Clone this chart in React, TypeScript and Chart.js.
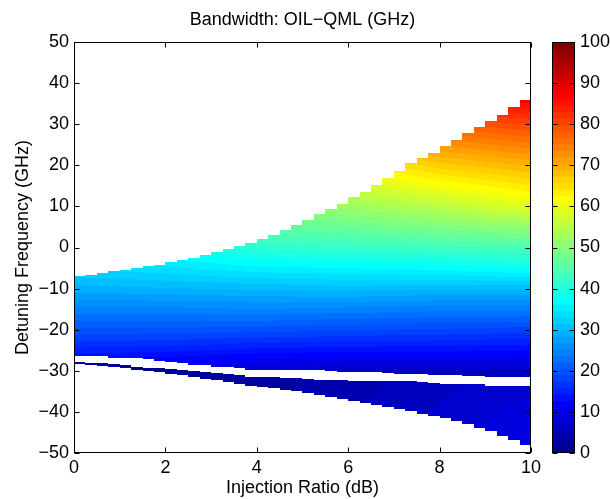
import React, { useEffect, useRef } from 'react';
import { Chart, registerables } from 'chart.js';

Chart.register(...registerables);

// ---------------- text ----------------
const TITLE = 'Bandwidth: OIL\u2212QML (GHz)';
const X_LABEL = 'Injection Ratio (dB)';
const Y_LABEL = 'Detuning Frequency (GHz)';

// ---------------- ticks ----------------
const xTickValues = [0, 2, 4, 6, 8, 10];
const yTickValues = [-50, -40, -30, -20, -10, 0, 10, 20, 30, 40, 50];
const cbTickValues = [0, 10, 20, 30, 40, 50, 60, 70, 80, 90, 100];

// ---------------- region of the map (per 0.25 dB column) ----------------
const columnWidth = 0.25;
const columnStart = [
  0, 0.25, 0.5, 0.75, 1, 1.25, 1.5, 1.75, 2, 2.25, 2.5, 2.75, 3, 3.25, 3.5, 3.75,
  4, 4.25, 4.5, 4.75, 5, 5.25, 5.5, 5.75, 6, 6.25, 6.5, 6.75, 7, 7.25, 7.5, 7.75,
  8, 8.25, 8.5, 8.75, 9, 9.25, 9.5, 9.75,
];
// upper boundary of the locked region (GHz)
const upperEdge = [
  -6.9, -6.8, -6.3, -5.8, -5.4, -5.0, -4.6, -4.2, -3.6, -3.1, -2.6, -1.9, -1.1, -0.4, 0.4, 1.2,
  2.0, 3.0, 4.2, 5.4, 6.7, 8.2, 9.3, 10.6, 12.2, 13.6, 15.2, 16.8, 18.7, 20.6, 21.7, 23.1,
  24.7, 26.2, 27.9, 29.2, 30.7, 32.2, 34.1, 35.9,
];
// lower boundary of the upper part (top of white gap)
const gapTop = [
  -26.4, -26.4, -26.5, -26.9, -27.0, -27.0, -27.2, -27.6, -27.9, -28.2, -28.5, -28.7, -29.0, -29.0, -29.2, -29.7,
  -29.8, -29.8, -29.8, -29.8, -29.8, -29.8, -30.1, -30.4, -30.4, -30.4, -30.4, -30.6, -30.8, -30.8, -30.8, -31.0,
  -31.0, -31.0, -31.3, -31.3, -31.4, -31.4, -31.4, -31.4,
];
// upper boundary of the lower strip (bottom of white gap)
const gapBottom = [
  -27.9, -28.0, -28.2, -28.4, -28.7, -29.0, -29.2, -29.4, -29.5, -29.8, -30.1, -30.4, -30.6, -30.8, -31.1, -31.4,
  -31.5, -31.6, -31.7, -31.8, -31.9, -32.2, -32.2, -32.3, -32.4, -32.6, -32.6, -32.6, -32.6, -32.6, -32.7, -33.0,
  -33.2, -33.2, -33.2, -33.3, -33.6, -33.7, -33.7, -33.7,
];
// lower boundary of the lower strip
const lowerEdge = [
  -28.4, -28.6, -28.9, -29.1, -29.4, -29.7, -30.1, -30.4, -30.8, -31.1, -31.5, -31.9, -32.3, -32.7, -33.1, -33.6,
  -33.9, -34.3, -34.6, -35.0, -35.4, -35.9, -36.4, -36.9, -37.4, -37.9, -38.4, -38.8, -39.3, -39.8, -40.4, -41.0,
  -41.6, -42.2, -43.0, -43.8, -44.7, -45.8, -46.8, -48.0,
];

// ---------------- bandwidth values (GHz) read at grid nodes ----------------
const tableInjection = [0, 2, 4, 6, 8, 10];
const upperDetuning = [40, 35, 30, 25, 20, 15, 10, 5, 0, -5, -10, -15, -20, -25, -30, -35];
const upperBandwidth = [
  [73, 75, 78, 82, 88, 92],
  [68, 70, 73, 77, 83, 86],
  [63, 65, 68, 72, 77.5, 80],
  [58, 60, 63, 67, 72, 74.5],
  [53, 55, 58, 62, 66.5, 69],
  [49, 50, 53, 57, 61, 64],
  [45, 46, 50, 52, 55, 59],
  [41, 42, 46, 47, 49, 51],
  [37, 38, 41, 42, 43, 44],
  [33, 34, 35.5, 36, 36.5, 38],
  [29, 29.5, 30, 30.5, 30, 30],
  [24.5, 24.5, 25, 24.5, 24, 24],
  [20, 20, 19.5, 19, 18.5, 18],
  [15, 14.5, 13.5, 13, 13, 12.5],
  [9, 8.5, 7, 6, 6, 6],
  [5, 4, 3, 3, 3, 3],
];
const lowerDetuning = [-25, -30, -35, -40, -45, -50];
const lowerBandwidth = [
  [2, 2, 2.5, 4, 5.5, 7],
  [1.5, 1.5, 2.5, 4, 5.5, 7],
  [1.5, 1.5, 2.5, 4, 6, 7.5],
  [1.5, 1.5, 2.5, 4.5, 6.5, 8.5],
  [1.5, 1.5, 2.5, 5, 7, 9.5],
  [1.5, 1.5, 2.5, 5, 7.5, 10],
];

const COLOR_MIN = 0;
const COLOR_MAX = 100;
const COLOR_LEVELS = 64;

// ---------------- helpers ----------------
const FONT_FAMILY = '"Liberation Sans", Arial, Helvetica, sans-serif';
const FONT = { family: FONT_FAMILY, size: 18, weight: 'normal' as const };

function fmt(v: number | string): string {
  const n = Number(v);
  return n < 0 ? '\u2212' + Math.abs(n) : String(n);
}

// MATLAB jet(64)
function jetU(j: number): number {
  if (j >= 1 && j <= 16) return j / 16;
  if (j >= 17 && j <= 31) return 1;
  if (j >= 32 && j <= 47) return (48 - j) / 16;
  return 0;
}
const JET: number[][] = [];
for (let k = 1; k <= COLOR_LEVELS; k++) {
  JET.push([
    Math.round(255 * jetU(k - 24)),
    Math.round(255 * jetU(k - 8)),
    Math.round(255 * jetU(k + 8)),
  ]);
}
function levelOf(v: number): number {
  const t = (v - COLOR_MIN) / (COLOR_MAX - COLOR_MIN);
  return Math.max(0, Math.min(COLOR_LEVELS - 1, Math.floor(t * COLOR_LEVELS)));
}

function sampleGrid(xs: number[], ys: number[], grid: number[][], x: number, y: number): number {
  const cx = Math.max(xs[0], Math.min(xs[xs.length - 1], x));
  let ix = 0;
  while (ix < xs.length - 2 && cx > xs[ix + 1]) ix++;
  const tx = (cx - xs[ix]) / (xs[ix + 1] - xs[ix]);
  const cy = Math.max(ys[ys.length - 1], Math.min(ys[0], y));
  let iy = 0;
  while (iy < ys.length - 2 && cy < ys[iy + 1]) iy++;
  const ty = (ys[iy] - cy) / (ys[iy] - ys[iy + 1]);
  const a = grid[iy][ix] * (1 - tx) + grid[iy][ix + 1] * tx;
  const b = grid[iy + 1][ix] * (1 - tx) + grid[iy + 1][ix + 1] * tx;
  return a * (1 - ty) + b * ty;
}

// ---------------- plugins ----------------
const mapPlugin = {
  id: 'bandwidthMap',
  beforeDatasetsDraw(chart: any) {
    const { ctx, chartArea: a, scales } = chart;
    const xs = scales.x;
    const ys = scales.y;
    const L = Math.round(a.left);
    const T = Math.round(a.top);
    const W = Math.round(a.right) - L;
    const H = Math.round(a.bottom) - T;
    const off = document.createElement('canvas');
    off.width = W;
    off.height = H;
    const octx = off.getContext('2d')!;
    const img = octx.createImageData(W, H);
    const d = img.data;
    for (let c = 0; c < W; c++) {
      const xv = xs.getValueForPixel(L + c + 0.5);
      let i = Math.floor((xv - columnStart[0]) / columnWidth);
      i = Math.max(0, Math.min(columnStart.length - 1, i));
      for (let r = 0; r < H; r++) {
        const yv = ys.getValueForPixel(T + r + 0.5);
        let v: number | null = null;
        if (yv <= upperEdge[i] && yv >= gapTop[i]) {
          v = sampleGrid(tableInjection, upperDetuning, upperBandwidth, xv, yv);
        } else if (yv <= gapBottom[i] && yv >= lowerEdge[i]) {
          v = sampleGrid(tableInjection, lowerDetuning, lowerBandwidth, xv, yv);
        }
        if (v === null) continue;
        const col = JET[levelOf(v)];
        const p = (r * W + c) * 4;
        d[p] = col[0];
        d[p + 1] = col[1];
        d[p + 2] = col[2];
        d[p + 3] = 255;
      }
    }
    octx.putImageData(img, 0, 0);
    ctx.drawImage(off, L, T);
  },
};

function drawFrame(chart: any, xTicks: number[] | null, yTicks: number[], yScaleId: string) {
  const { ctx, chartArea: a, scales } = chart;
  const L = Math.round(a.left) + 0.5;
  const R = Math.round(a.right) - 0.5;
  const T = Math.round(a.top) + 0.5;
  const B = Math.round(a.bottom) - 0.5;
  const len = 5;
  ctx.save();
  ctx.strokeStyle = '#000';
  ctx.lineWidth = 1;
  ctx.beginPath();
  if (xTicks) {
    for (const v of xTicks) {
      const px = Math.round(scales.x.getPixelForValue(v)) + 0.5;
      ctx.moveTo(px, B);
      ctx.lineTo(px, B - len);
      ctx.moveTo(px, T);
      ctx.lineTo(px, T + len);
    }
  }
  for (const v of yTicks) {
    const py = Math.round(scales[yScaleId].getPixelForValue(v)) + 0.5;
    ctx.moveTo(L, py);
    ctx.lineTo(L + len, py);
    ctx.moveTo(R, py);
    ctx.lineTo(R - len, py);
  }
  ctx.stroke();
  ctx.strokeRect(L, T, R - L, B - T);
  ctx.restore();
}

const mainFramePlugin = {
  id: 'mainFrame',
  afterDraw(chart: any) {
    drawFrame(chart, xTickValues, yTickValues, 'y');
  },
};
const cbFramePlugin = {
  id: 'cbFrame',
  afterDraw(chart: any) {
    drawFrame(chart, null, cbTickValues, 'y');
  },
};

export default function App() {
  const mainRef = useRef<HTMLCanvasElement>(null);
  const cbRef = useRef<HTMLCanvasElement>(null);

  useEffect(() => {
    const main = new Chart(mainRef.current!, {
      type: 'scatter',
      data: { datasets: [{ data: [], pointRadius: 0 }] },
      options: {
        animation: false,
        responsive: false,
        maintainAspectRatio: false,
        layout: { padding: { left: 0, right: 11, top: 0, bottom: 0 } },
        plugins: {
          legend: { display: false },
          tooltip: { enabled: false },
          title: {
            display: true,
            text: TITLE,
            color: '#000',
            font: FONT,
            fullSize: false,
            padding: { top: 9, bottom: 11.4 },
          },
        },
        scales: {
          x: {
            type: 'linear',
            min: 0,
            max: 10,
            afterBuildTicks: (s: any) => {
              s.ticks = xTickValues.map((v) => ({ value: v }));
            },
            afterFit: (s: any) => {
              s.height = 46;
            },
            ticks: { color: '#000', font: FONT, padding: 4, maxRotation: 0, autoSkip: false, callback: fmt },
            grid: { display: false, drawTicks: false },
            border: { display: false },
            title: { display: true, text: X_LABEL, color: '#000', font: FONT, padding: { top: 0, bottom: 0 } },
          },
          y: {
            type: 'linear',
            min: -50,
            max: 50,
            afterBuildTicks: (s: any) => {
              s.ticks = yTickValues.map((v) => ({ value: v }));
            },
            afterFit: (s: any) => {
              s.width = 74;
            },
            ticks: { color: '#000', font: FONT, padding: 5, autoSkip: false, callback: fmt },
            grid: { display: false, drawTicks: false },
            border: { display: false },
            title: { display: true, text: Y_LABEL, color: '#000', font: FONT, padding: { top: 12, bottom: 0 } },
          },
        },
      } as any,
      plugins: [mapPlugin, mainFramePlugin],
    });

    const levels = Array.from({ length: COLOR_LEVELS }, (_, k) => k);
    const step = (COLOR_MAX - COLOR_MIN) / COLOR_LEVELS;
    const cb = new Chart(cbRef.current!, {
      type: 'bar',
      data: {
        labels: [''],
        datasets: levels.map((k) => ({
          data: [[COLOR_MIN + k * step, COLOR_MIN + (k + 1) * step]],
          backgroundColor: `rgb(${JET[k][0]},${JET[k][1]},${JET[k][2]})`,
          borderWidth: 0,
          barPercentage: 1,
          categoryPercentage: 1,
          grouped: false,
          inflateAmount: 0.5,
        })) as any,
      },
      options: {
        animation: false,
        responsive: false,
        maintainAspectRatio: false,
        layout: { padding: { left: 7, right: 0, top: 42, bottom: 46 } },
        plugins: { legend: { display: false }, tooltip: { enabled: false }, title: { display: false } },
        scales: {
          x: { display: false },
          y: {
            type: 'linear',
            position: 'right',
            min: COLOR_MIN,
            max: COLOR_MAX,
            afterBuildTicks: (s: any) => {
              s.ticks = cbTickValues.map((v) => ({ value: v }));
            },
            afterFit: (s: any) => {
              s.width = 35;
            },
            ticks: { color: '#000', font: FONT, padding: 5, autoSkip: false, callback: fmt },
            grid: { display: false, drawTicks: false },
            border: { display: false },
          },
        },
      } as any,
      plugins: [cbFramePlugin],
    });

    return () => {
      main.destroy();
      cb.destroy();
    };
  }, []);

  return (
    <div style={{ position: 'fixed', left: 0, top: 0, width: 610, height: 499, background: '#fff' }}>
      <canvas
        ref={mainRef}
        width={545}
        height={499}
        style={{ position: 'absolute', left: 0, top: 0, width: 545, height: 499 }}
      />
      <canvas
        ref={cbRef}
        width={65}
        height={499}
        style={{ position: 'absolute', left: 545, top: 0, width: 65, height: 499 }}
      />
    </div>
  );
}
